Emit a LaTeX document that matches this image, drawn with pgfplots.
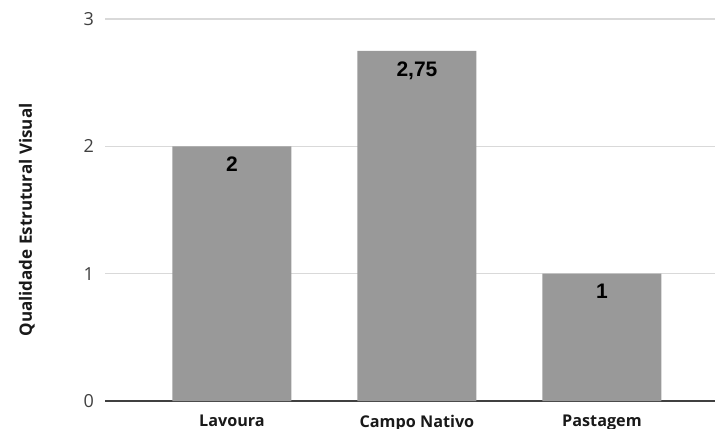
\documentclass[border=0pt]{standalone}
\usepackage{pgfplots}
\pgfplotsset{compat=1.18}
\usepackage{fontspec}
\setmainfont{Open Sans}
\newfontfamily\arialf{Liberation Sans}
\definecolor{barc}{RGB}{153,153,153}
\definecolor{gridc}{RGB}{217,217,217}
\definecolor{axc}{RGB}{64,64,64}
\begin{document}
\begin{tikzpicture}
\begin{axis}[
  scale only axis,
  width=305pt, height=191pt,
  xmin=-0.686, xmax=2.611,
  ymin=0, ymax=3,
  ytick={0,1,2,3},
  xtick={0,1,2},
  xticklabels={Lavoura, Campo Nativo, Pastagem},
  /pgf/number format/assume math mode=true,
  ymajorgrids,
  grid style={color=gridc, line width=0.7pt},
  axis x line*=bottom,
  axis y line*=left,
  y axis line style={draw=none},
  x axis line style={draw=axc, line width=1pt, -},
  major tick length=0pt,
  tick style={draw=none},
  yticklabel style={font=\fontsize{9}{10}\selectfont, text=black!75, xshift=-2pt},
  xticklabel style={font=\fontsize{8.1}{10}\selectfont\bfseries, text=black!90, yshift=-3.5pt},
  ylabel={Qualidade Estrutural Visual},
  ylabel style={font=\fontsize{8.5}{10}\selectfont\bfseries, text=black!90, at={(axis description cs:-0.128,0.474)}, anchor=center, rotate=0},
  ybar,
  bar width=0.643,
  nodes near coords,
  point meta=explicit symbolic,
  every node near coord/.append style={font=\arialf\bfseries\fontsize{10.5}{12}\selectfont, text=black, anchor=base, yshift=-12.6pt},
]
\addplot[fill=barc, draw=none] coordinates {(0,2) [2] (1,2.75) [{2,75}] (2,1) [1]};
\end{axis}
\pgfresetboundingbox
\path ([shift={(-52.5pt,-13.5pt)}]current axis.south west) rectangle ([shift={(0pt,9.5pt)}]current axis.north east);
\end{tikzpicture}
\end{document}
